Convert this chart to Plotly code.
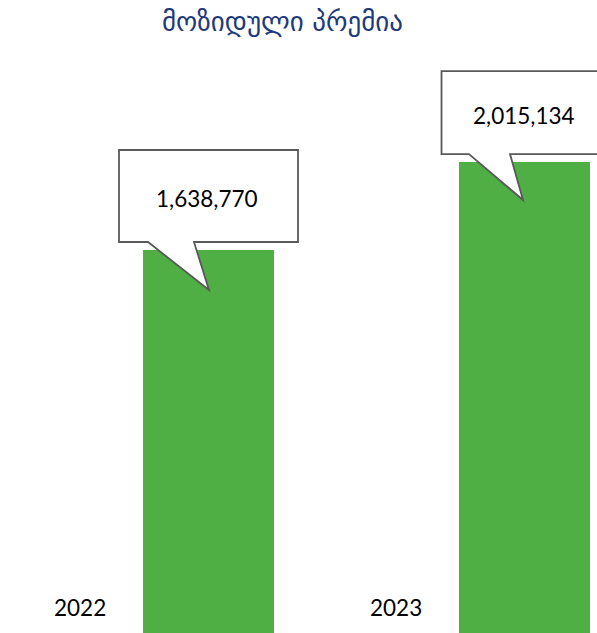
import plotly.graph_objects as go

# ---- data ----
years = ["2022", "2023"]
premium = [1638770, 2015134]
labels = ["1,638,770", "2,015,134"]
title_text = "მოზიდული პრემია"

BAR_COLOR = "#4FAF44"
TITLE_COLOR = "#1F3A7A"
FONT = "Lato, 'Open Sans', sans-serif"

xs = list(range(len(years)))

fig = go.Figure()
fig.add_trace(go.Bar(
    x=xs, y=premium, width=0.4146,
    marker=dict(color=BAR_COLOR, line=dict(width=0)),
    hoverinfo="skip", showlegend=False,
))

# callout geometry in pixels relative to the top-centre of each bar
callouts = [
    dict(left=-89.5, right=89.5, top=100, bottom=8, b1=-60.5, b2=-14.5, tip=(0.5, -40), txt=(-2, 52)),
    dict(left=-83, right=85, top=91, bottom=8, b1=-55.5, b2=-14.5, tip=(-1.5, -38), txt=(-1, 47)),
]

shapes = []
annotations = []
for i, (xv, val, lab, c) in enumerate(zip(xs, premium, labels, callouts)):
    path = (f"M {c['left']},{c['bottom']} L {c['left']},{c['top']} L {c['right']},{c['top']} "
            f"L {c['right']},{c['bottom']} L {c['b2']},{c['bottom']} L {c['tip'][0]},{c['tip'][1]} "
            f"L {c['b1']},{c['bottom']} Z")
    shapes.append(dict(
        type="path", xref="x", yref="y",
        xsizemode="pixel", ysizemode="pixel",
        xanchor=xv, yanchor=val, path=path,
        fillcolor="white", line=dict(color="#595959", width=1.8),
        layer="above",
    ))
    annotations.append(dict(
        x=xv, y=val, xref="x", yref="y", text=lab, showarrow=False,
        xshift=c["txt"][0], yshift=c["txt"][1],
        font=dict(family=FONT, size=22.5, color="#000000"),
        xanchor="center", yanchor="middle",
    ))

for xv, yr in zip(xs, years):
    annotations.append(dict(
        x=xv, y=0, xref="x", yref="y", text=yr, showarrow=False,
        xshift=-128.5, yshift=26,
        font=dict(family=FONT, size=22.5, color="#000000"),
        xanchor="center", yanchor="middle",
    ))

annotations.append(dict(
    x=282.5 / 597, y=1, xref="paper", yref="paper", text=title_text, showarrow=False,
    yshift=-21, font=dict(family="DejaVu Sans", size=27, color=TITLE_COLOR),
    xanchor="center", yanchor="middle",
))

fig.update_layout(
    width=597, height=633,
    margin=dict(l=0, r=0, t=0, b=0),
    paper_bgcolor="white", plot_bgcolor="white",
    xaxis=dict(range=[-0.6598, 1.2294], visible=False, fixedrange=True),
    yaxis=dict(range=[0, 2708500], visible=False, fixedrange=True),
    shapes=shapes, annotations=annotations,
    bargap=0,
)

fig.write_html("out.html")
